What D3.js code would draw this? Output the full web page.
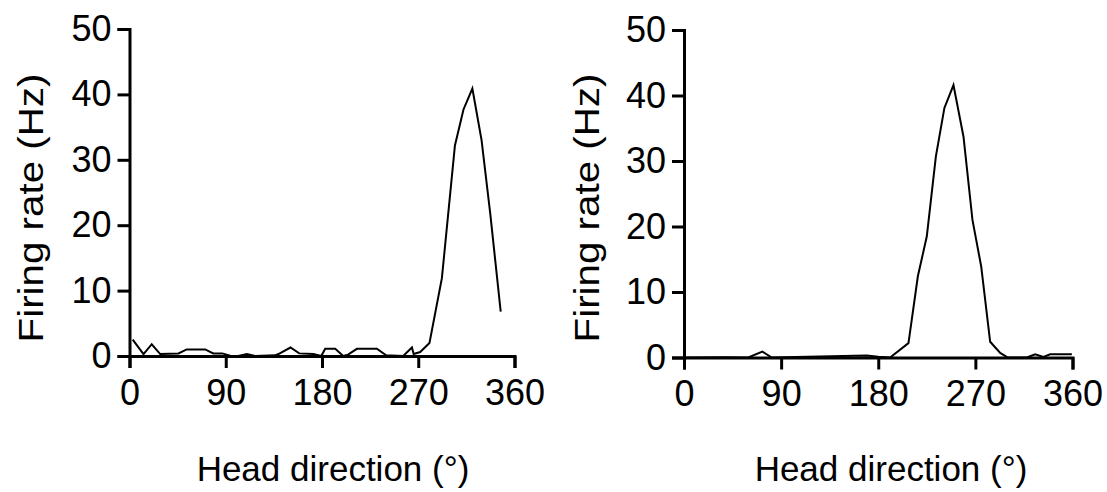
<!DOCTYPE html>
<html>
<head>
<meta charset="utf-8">
<script src="https://cdn.jsdelivr.net/npm/d3@7"></script>
<style>
  body { margin: 0; background: #fff; }
  text { font-family: "Liberation Sans", Arial, sans-serif; fill: #000; }
</style>
</head>
<body>
<svg id="chart"></svg>
<script>
// values: head direction (deg) and firing rate (Hz)
var leftAngles = [3.0, 13.1, 20.8, 28.7, 45.8, 53.5, 70.8, 78.3, 86.7, 94.2, 101.6, 109.8, 117.5,
  136.2, 139.3, 150.5, 158.7, 171.8, 179.3, 183.0, 192.4, 199.8, 204.4, 212.6, 231.3, 240.0,
  255.9, 264.1, 265.7, 271.8, 280.5, 292.1, 304.3, 312.3, 320.6, 329.2, 337.3, 347.1];
var leftRates = [2.5, 0.3, 1.8, 0.3, 0.4, 1.0, 1.0, 0.4, 0.4, 0.05, 0, 0.3, 0,
  0.1, 0.3, 1.3, 0.4, 0.3, 0, 1.1, 1.1, 0, 0.2, 1.1, 1.1, 0.1,
  0, 1.3, 0.3, 0.6, 2.0, 11.9, 32.2, 37.7, 40.9, 33.0, 21.8, 6.8];

var rightAngles = [0, 38.0, 59.6, 72.6, 81.3, 169.4, 179.9, 191.0, 208.0, 216.7, 225.0, 233.4,
  241.3, 249.7, 259.0, 267.3, 275.4, 283.7, 293.0, 300.1, 317.7, 325.4, 333.1, 339.3, 359.4];
var rightRates = [0, 0.05, 0, 0.9, 0, 0.3, 0.1, 0, 2.2, 12.4, 18.5, 30.7,
  38.1, 41.6, 33.7, 21.0, 13.9, 2.4, 0.7, 0, 0, 0.5, 0.1, 0.5, 0.5];

var xTicks = [0, 90, 180, 270, 360];
var yTicks = [0, 10, 20, 30, 40, 50];
var xTitle = "Head direction (°)";
var yTitle = "Firing rate (Hz)";

var svg = d3.select("#chart")
  .attr("width", 1107)
  .attr("height", 492);

// panel placement
var panels = [
  { left: 129.5, right: 514.5, top: 29, bottom: 356, angles: leftAngles, rates: leftRates, yLab: 30, xLab: 333 },
  { left: 684, right: 1072.5, top: 30, bottom: 357.5, angles: rightAngles, rates: rightRates, yLab: 586, xLab: 891 }
];

panels.forEach(function(p) {
  var x = d3.scaleLinear().domain([0, 360]).range([p.left, p.right]);
  var y = d3.scaleLinear().domain([0, 50]).range([p.bottom, p.top]);

  var data = p.angles.map(function(a, i) { return [a, p.rates[i]]; });

  var line = d3.line()
    .x(function(d) { return x(d[0]); })
    .y(function(d) { return y(d[1]); });

  svg.append("path")
    .datum(data)
    .attr("d", line)
    .style("fill", "none")
    .style("stroke", "#000")
    .style("stroke-width", 2)
    .style("stroke-linejoin", "miter");

  var gx = svg.append("g")
    .attr("transform", "translate(0," + p.bottom + ")")
    .call(d3.axisBottom(x).tickValues(xTicks).tickSize(12).tickPadding(11));

  var gy = svg.append("g")
    .attr("transform", "translate(" + p.left + ",0)")
    .call(d3.axisLeft(y).tickValues(yTicks).tickSize(12).tickPadding(6));

  [gx, gy].forEach(function(g) {
    g.selectAll("path, line").style("stroke", "#000").style("stroke-width", 3);
    g.selectAll("text")
      .style("font-family", "'Liberation Sans', Arial, sans-serif")
      .style("font-size", "36px")
      .style("fill", "#000");
  });

  // the title in the reference is drawn a little stretched along its length
  svg.append("text")
    .attr("transform", "translate(" + p.yLab + ",208) rotate(-90) scale(1.12,1)")
    .attr("text-anchor", "middle")
    .attr("dy", "0.35em")
    .style("font-size", "36px")
    .text(yTitle);

  svg.append("text")
    .attr("x", p.xLab)
    .attr("y", 481)
    .attr("text-anchor", "middle")
    .style("font-size", "35px")
    .text(xTitle);
});
</script>
</body>
</html>
